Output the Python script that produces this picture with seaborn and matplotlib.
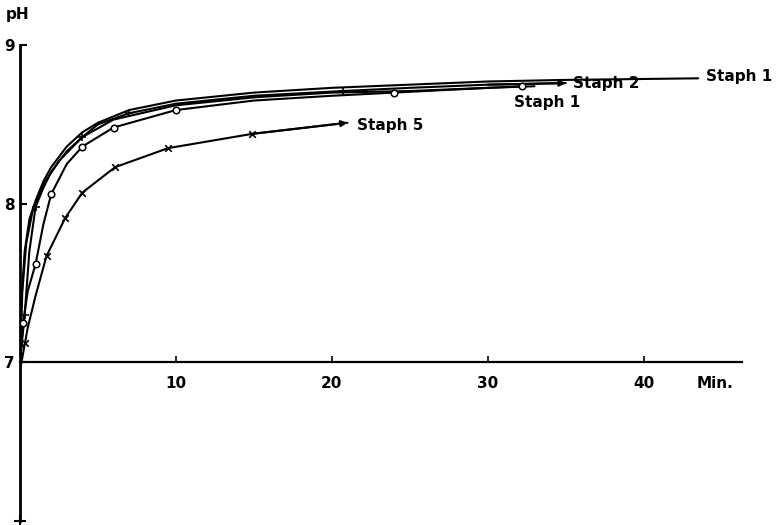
import matplotlib
matplotlib.use("Agg")
import matplotlib.pyplot as plt
import seaborn as sns
import pandas as pd

# ---- data ----
# upper "Staph 1" curve (no markers, longest)
a_x = [0, 0.1, 0.3, 0.6, 1, 1.5, 2, 3, 4, 5, 7, 10, 15, 20, 25, 30, 35, 43.5]
a_y = [7.0, 7.4, 7.7, 7.9, 8.02, 8.14, 8.23, 8.36, 8.45, 8.51, 8.59, 8.65, 8.70, 8.73, 8.75, 8.77, 8.78, 8.79]

# unlabelled curve in the upper bundle
d_x = [0, 0.15, 0.4, 0.8, 1.5, 2.5, 4, 6, 10, 15, 20, 25, 30, 33]
d_y = [7.0, 7.45, 7.75, 7.95, 8.12, 8.27, 8.42, 8.53, 8.62, 8.67, 8.70, 8.71, 8.73, 8.74]

# "Staph 2" curve (tick markers, arrow end)
b_x = [0, 0.3, 0.6, 1, 1.5, 2, 3, 4, 5, 7, 10, 15, 20.7, 25, 30, 35]
b_y = [7.0, 7.3, 7.7, 7.98, 8.1, 8.2, 8.33, 8.42, 8.5, 8.57, 8.63, 8.68, 8.71, 8.73, 8.75, 8.76]
b_mx = [0.3, 1, 4, 7, 20.7]
b_my = [7.3, 7.98, 8.42, 8.57, 8.71]

# lower "Staph 1" curve (open circles)
c_x = [0, 0.2, 0.5, 1, 1.5, 2, 3, 4, 6, 10, 15, 20, 24, 28, 32.2]
c_y = [7.0, 7.25, 7.45, 7.62, 7.87, 8.06, 8.25, 8.36, 8.48, 8.59, 8.65, 8.68, 8.70, 8.72, 8.74]
c_mx = [0.2, 1, 2, 4, 6, 10, 24, 32.2]
c_my = [7.25, 7.62, 8.06, 8.36, 8.48, 8.59, 8.70, 8.74]

# "Staph 5" curve (x markers, arrow end)
e_x = [0, 0.5, 1, 1.7, 2.9, 4, 6.1, 9.5, 14.9, 21]
e_y = [6.95, 7.22, 7.42, 7.67, 7.91, 8.07, 8.23, 8.35, 8.44, 8.51]
e_mx = [0.3, 1.7, 2.9, 4, 6.1, 9.5, 14.9]
e_my = [7.12, 7.67, 7.91, 8.07, 8.23, 8.35, 8.44]

x_ticks = [10, 20, 30, 40]
y_ticks = [7, 8, 9]

labels = [("Staph 1", 44.0, 8.80), ("Staph 2", 35.5, 8.755),
          ("Staph 1", 31.7, 8.635), ("Staph 5", 21.6, 8.49)]

# ---- figure ----
sns.set_style("white")
plt.rcParams["font.family"] = ["DejaVu Sans"]
plt.rcParams["text.color"] = "black"
fig = plt.figure(figsize=(7.77, 5.25), dpi=100)
ax = fig.add_axes([20 / 777, 4 / 525, (745 - 20) / 777, (521 - 45) / 525])
ax.set_xlim(0, 46.5)
ax.set_ylim(6.0, 9.0)

lw = 1.5
for xs, ys in [(a_x, a_y), (d_x, d_y), (b_x, b_y), (c_x, c_y), (e_x, e_y)]:
    sns.lineplot(x=xs, y=ys, ax=ax, color="black", linewidth=lw, sort=False,
                 estimator=None)

sns.scatterplot(x=b_mx, y=b_my, ax=ax, marker="+", s=30, color="black",
                linewidth=1.2, zorder=5)
sns.scatterplot(x=c_mx, y=c_my, ax=ax, marker="o", s=22, facecolor="white",
                edgecolor="black", linewidth=1.1, zorder=5)
sns.scatterplot(x=e_mx, y=e_my, ax=ax, marker="x", s=22, color="black",
                linewidth=1.2, zorder=5)

# arrow heads at the ends of Staph 2 and Staph 5
for xs, ys in [(b_x, b_y), (e_x, e_y)]:
    ax.annotate("", xy=(xs[-1], ys[-1]), xytext=(xs[-2], ys[-2]),
                arrowprops=dict(arrowstyle="-|>", color="black", lw=lw,
                                mutation_scale=9, shrinkA=0, shrinkB=0))

for txt, x, y in labels:
    ax.text(x, y, txt, fontsize=11, fontweight="bold", ha="left",
            va="center", clip_on=False, color="black")

# axes styling
for s in ["top", "right"]:
    ax.spines[s].set_visible(False)
ax.spines["bottom"].set_position(("data", 7))
ax.spines["left"].set_position(("data", 0))
ax.spines["left"].set_bounds(6.0, 9.0)
ax.spines["bottom"].set_bounds(0, 46.3)
ax.spines["left"].set_linewidth(2.0)
ax.spines["bottom"].set_linewidth(1.6)
ax.spines["left"].set_color("black")
ax.spines["bottom"].set_color("black")

ax.set_xticks(x_ticks)
ax.set_xticklabels([str(t) for t in x_ticks], fontsize=11, fontweight="bold")
ax.set_yticks(y_ticks)
ax.set_yticklabels([str(t) for t in y_ticks], fontsize=11, fontweight="bold")
ax.tick_params(axis="x", direction="in", length=4, width=1.2, pad=10,
               bottom=True, colors="black")
ax.tick_params(axis="y", direction="in", length=5, width=1.5, pad=4,
               left=True, colors="black")
ax.set_xlabel("")
ax.set_ylabel("")

# small cross at the bottom of the y axis
ax.plot([0], [6.0], marker="+", markersize=8, color="black", mew=1.5,
        clip_on=False)

fig.text(18 / 777, 1 - 15 / 525, "pH", fontsize=11, fontweight="bold",
         ha="center", va="center", color="black")
fig.text(697 / 777, 1 - 384 / 525, "Min.", fontsize=11, fontweight="bold",
         ha="left", va="center", color="black")

fig.savefig("out.png", dpi=100, facecolor="white")
